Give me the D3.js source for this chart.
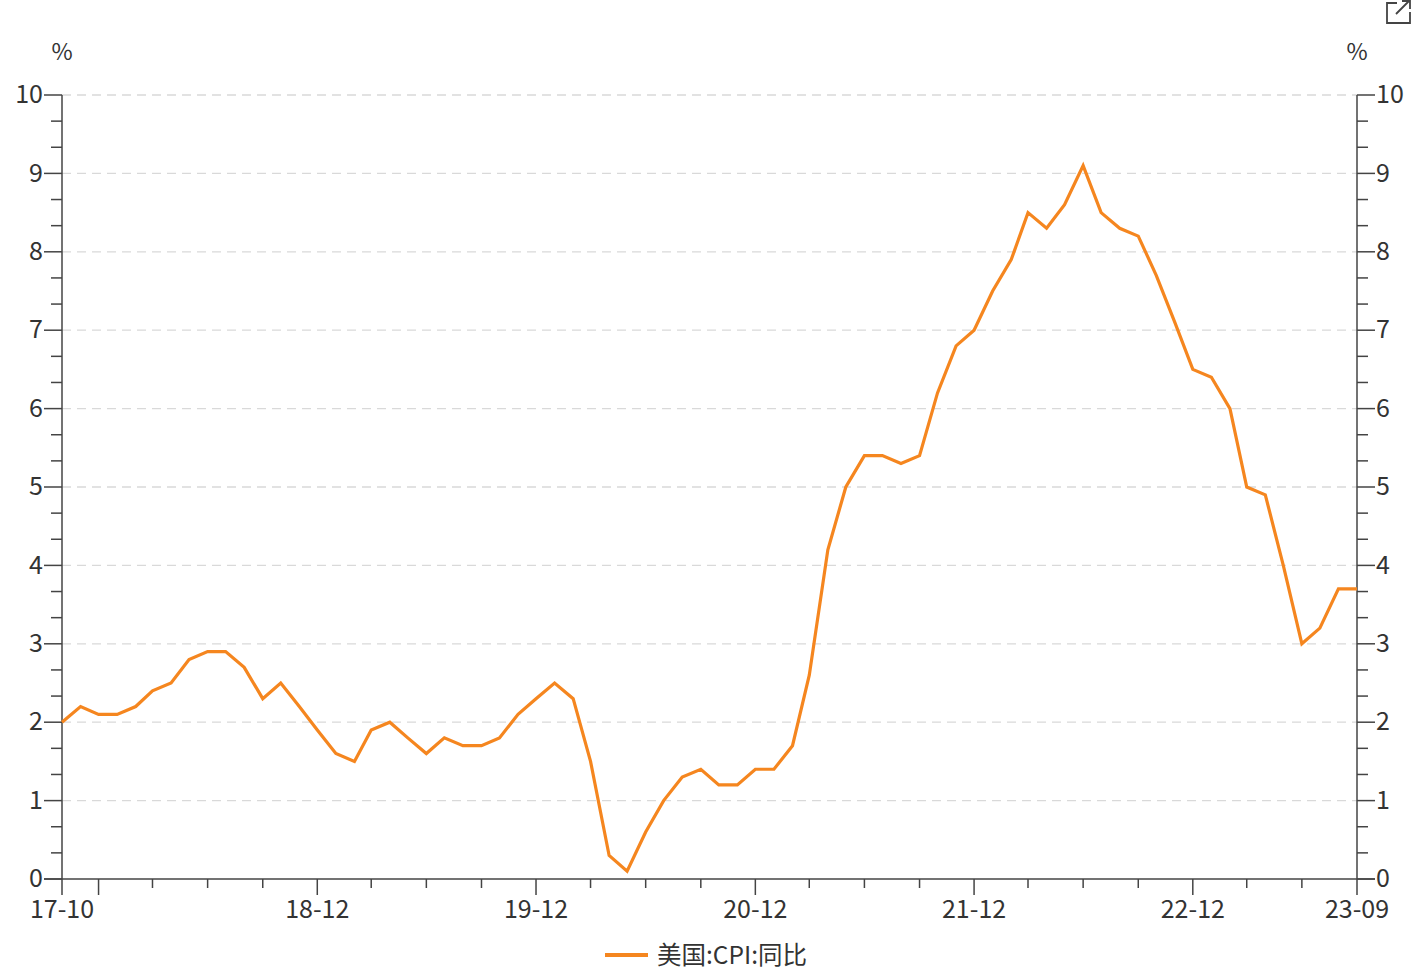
<!DOCTYPE html>
<html><head><meta charset="utf-8">
<script src="https://cdn.jsdelivr.net/npm/d3@7"></script>
<style>body{margin:0;background:#fff}svg{display:block}text{font-family:"Noto Sans CJK SC","Noto Sans",sans-serif;fill:#333}</style>
</head><body><svg id="c" width="1426" height="976"></svg>
<script>
const startMonth = "2017-10";
const endMonth = "2023-09";
const seriesName = "美国:CPI:同比";
const values = [2.0,2.2,2.1,2.1,2.2,2.4,2.5,2.8,2.9,2.9,2.7,2.3,2.5,2.2,1.9,1.6,1.5,1.9,2.0,1.8,1.6,1.8,1.7,1.7,1.8,2.1,2.3,2.5,2.3,1.5,0.3,0.1,0.6,1.0,1.3,1.4,1.2,1.2,1.4,1.4,1.7,2.6,4.2,5.0,5.4,5.4,5.3,5.4,6.2,6.8,7.0,7.5,7.9,8.5,8.3,8.6,9.1,8.5,8.3,8.2,7.7,7.1,6.5,6.4,6.0,5.0,4.9,4.0,3.0,3.2,3.7,3.7];
const yTicks = [0,1,2,3,4,5,6,7,8,9,10];
const xLabels = ["17-10","18-12","19-12","20-12","21-12","22-12","23-09"];
const unitLabel = "%";

const parse = d3.utcParse("%Y-%m");
const months = d3.utcMonth.range(parse(startMonth), d3.utcMonth.offset(parse(endMonth),1));
const data = months.map((m,i)=>({date:m, v:values[i]}));
const fmt = d3.utcFormat("%y-%m");

const L=62, R=1357, T=95, B=879;
const svg = d3.select("#c");
const x = d3.scaleUtc().domain([months[0], months[months.length-1]]).range([L,R]);
const y = d3.scaleLinear().domain([0,10]).range([B,T]);
const axisCol="#444";

// grid
svg.append("g").selectAll("line").data(yTicks.filter(d=>d>0)).join("line")
  .attr("x1",L).attr("x2",R).attr("y1",d=>y(d)).attr("y2",d=>y(d))
  .attr("stroke","#d9d9d9").attr("stroke-width",1.3).attr("stroke-dasharray","9,6");

const minor = d3.range(0,30).map(i=>i/3).filter(v=>Math.abs(v-Math.round(v))>0.01);
function yAxis(side){
  const g = svg.append("g");
  const ax = side==="left"?L:R, s = side==="left"?-1:1;
  g.append("line").attr("x1",ax).attr("x2",ax).attr("y1",T).attr("y2",B).attr("stroke",axisCol).attr("stroke-width",1.5);
  g.selectAll("line.mj").data(yTicks).join("line").attr("class","mj")
    .attr("x1",ax).attr("x2",ax+s*18).attr("y1",d=>y(d)).attr("y2",d=>y(d)).attr("stroke",axisCol).attr("stroke-width",1.5);
  g.selectAll("line.mn").data(minor).join("line").attr("class","mn")
    .attr("x1",ax).attr("x2",ax+s*11).attr("y1",d=>y(d)).attr("y2",d=>y(d)).attr("stroke",axisCol).attr("stroke-width",1.5);
  g.selectAll("text").data(yTicks).join("text")
    .attr("x",ax+s*19).attr("y",d=>y(d)).attr("dy","0.33em")
    .attr("text-anchor",side==="left"?"end":"start").attr("font-size",25).text(d=>d);
  g.append("text").attr("x",ax).attr("y",60).attr("text-anchor","middle").attr("font-size",23).text(unitLabel);
}
yAxis("left"); yAxis("right");

// x axis
const gx = svg.append("g");
gx.append("line").attr("x1",L-18).attr("x2",R+18).attr("y1",B).attr("y2",B).attr("stroke",axisCol).attr("stroke-width",1.5);
const qTicks = months.filter((m,i)=>i===0||i===months.length-1||[2,5,8,11].includes(m.getUTCMonth()));
const isMajor = m=> m.getUTCMonth()===11 || +m===+months[0] || +m===+months[months.length-1];
gx.selectAll("line.t").data(qTicks).join("line").attr("class","t")
  .attr("x1",d=>x(d)).attr("x2",d=>x(d)).attr("y1",B).attr("y2",d=>B+(isMajor(d)?16:9))
  .attr("stroke",axisCol).attr("stroke-width",1.5);
gx.selectAll("text").data(months.filter(m=>xLabels.includes(fmt(m)))).join("text")
  .attr("x",d=>x(d)).attr("y",B+39).attr("text-anchor","middle").attr("font-size",25).text(d=>fmt(d));

// line
svg.append("path").datum(data)
  .attr("d",d3.line().x(d=>x(d.date)).y(d=>y(d.v)))
  .attr("fill","none").attr("stroke","#f5861f").attr("stroke-width",3.2).attr("stroke-linejoin","miter");

// legend
const lg = svg.append("g");
lg.append("line").attr("x1",605).attr("x2",648).attr("y1",955).attr("y2",955).attr("stroke","#f5861f").attr("stroke-width",4);
lg.append("text").attr("x",657).attr("y",955).attr("dy","0.35em").attr("font-size",24.5).text(seriesName);

// export icon
const ic = svg.append("g").attr("fill","none").attr("stroke","#444").attr("stroke-width",1.8);
ic.append("path").attr("d","M1397,3 H1387 V23 H1410 V12");
ic.append("path").attr("d","M1396,14 L1409,1 M1402,1 H1410 V9");
</script></body></html>
